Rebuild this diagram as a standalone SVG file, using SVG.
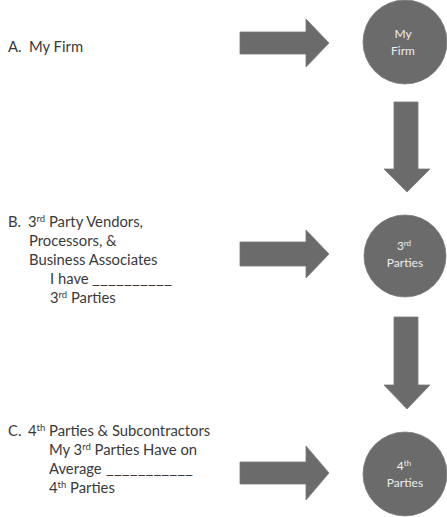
<svg xmlns="http://www.w3.org/2000/svg" width="447" height="517" viewBox="0 0 447 517">
<style>
.shape{fill:#6b6b6b;stroke:#7a7a7a;stroke-width:0.8}
.lbl{font-family:Lato,"Liberation Sans",sans-serif;font-size:14.8px;fill:#3a3a3a}
.in{font-family:Lato,"Liberation Sans",sans-serif;font-size:12px;fill:#eeeeee;text-anchor:middle}
</style>
<rect width="447" height="517" fill="#ffffff"/>
<g id="connectors">
<polygon class="shape" points="240,32 306,32 306,19 329,43 306,67 306,54 240,54"/>
<polygon class="shape" points="240,242 306,242 306,230 329,254 306,278 306,266 240,266"/>
<polygon class="shape" points="240,462 306,462 306,446 329,473 306,500 306,484 240,484"/>
<polygon class="shape" points="394,102 418,102 418,169 430,169 407,192 384,169 394,169"/>
<polygon class="shape" points="394,317 418,317 418,385 430,385 407,409 384,385 394,385"/>
</g>
<g id="label-a">
<text class="lbl" x="8" y="52">A.</text>
<text class="lbl" x="29" y="52">My Firm</text>
</g>
<g id="label-b">
<text class="lbl" x="8" y="227">B.</text>
<text class="lbl" x="28" y="227">3<tspan font-size="9.5" dy="-5">rd</tspan><tspan dy="5"> Party Vendors,</tspan></text>
<text class="lbl" x="29" y="246">Processors, &amp;</text>
<text class="lbl" x="29" y="265">Business Associates</text>
<text class="lbl" x="50" y="284">I have</text>
<text class="lbl" x="92" y="284" textLength="80" lengthAdjust="spacingAndGlyphs">__________</text>
<text class="lbl" x="50" y="303">3<tspan font-size="9.5" dy="-5">rd</tspan><tspan dy="5"> Parties</tspan></text>
</g>
<g id="label-c">
<text class="lbl" x="8" y="436">C.</text>
<text class="lbl" x="28" y="436">4<tspan font-size="9.5" dy="-5">th</tspan><tspan dy="5"> Parties &amp; Subcontractors</tspan></text>
<text class="lbl" x="49" y="455">My 3<tspan font-size="9.5" dy="-5">rd</tspan><tspan dy="5"> Parties Have on</tspan></text>
<text class="lbl" x="49" y="474">Average</text>
<text class="lbl" x="106" y="474" textLength="87" lengthAdjust="spacingAndGlyphs">___________</text>
<text class="lbl" x="49" y="493">4<tspan font-size="9.5" dy="-5">th</tspan><tspan dy="5"> Parties</tspan></text>
</g>
<g id="node-my-firm">
<circle class="shape" cx="405" cy="42" r="42"/>
<text class="in" x="403" y="38">My</text>
<text class="in" x="403" y="55">Firm</text>
</g>
<g id="node-3rd-parties">
<circle class="shape" cx="405" cy="256" r="41"/>
<text class="in" x="404" y="250">3<tspan font-size="8" dy="-4">rd</tspan></text>
<text class="in" x="405" y="267">Parties</text>
</g>
<g id="node-4th-parties">
<circle class="shape" cx="405" cy="474" r="42"/>
<text class="in" x="404" y="470">4<tspan font-size="8" dy="-4">th</tspan></text>
<text class="in" x="405" y="487">Parties</text>
</g>
</svg>
